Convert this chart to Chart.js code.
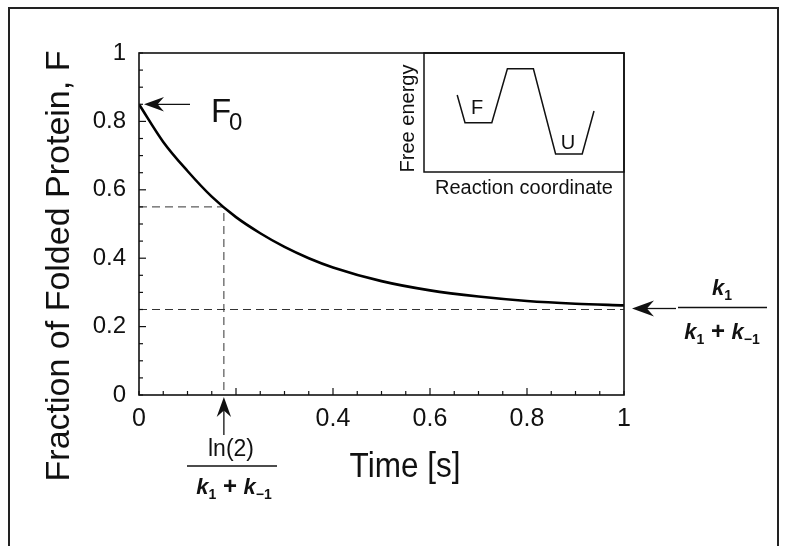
<!DOCTYPE html>
<html>
<head>
<meta charset="utf-8">
<script src="https://cdn.jsdelivr.net/npm/chart.js@4.4.1/dist/chart.umd.min.js"></script>
<style>
  html, body { margin: 0; background: #fff; }
  #wrap { position: relative; width: 788px; height: 546px; }
  #main { position: absolute; left: 0; top: 0; }
  #insetBox { position: absolute; left: 396px; top: 48px; width: 232px; height: 150px; }
</style>
</head>
<body>
<div id="wrap">
  <canvas id="main" width="788" height="546"></canvas>
  <div id="insetBox"><canvas id="inset"></canvas></div>
</div>
<script>
// values
const timeVals   = [0, 0.05, 0.1, 0.15, 0.2, 0.25, 0.3, 0.35, 0.4, 0.5, 0.6, 0.7, 0.8, 0.9, 1.0];
const foldedVals = [0.85, 0.74, 0.655, 0.58, 0.52, 0.473, 0.433, 0.40, 0.373, 0.333, 0.306, 0.288, 0.275, 0.267, 0.262];
const halfTime = 0.175;   // ln(2)/(k1+k-1)
const halfValue = 0.55;
const eqValue = 0.25;     // k1/(k1+k-1)
const startValue = 0.85;  // F0
const xTickLabels = [0, 0.4, 0.6, 0.8, 1];
const yTickLabels = [0, 0.2, 0.4, 0.6, 0.8, 1];

// inset: free energy vs reaction coordinate
const coordVals  = [0.166, 0.205, 0.339, 0.417, 0.547, 0.658, 0.791, 0.85];
const energyVals = [0.647, 0.414, 0.414, 0.868, 0.868, 0.151, 0.151, 0.513];

const FONT = '"Liberation Sans", Arial, Helvetica, sans-serif';
const pts = (xs, ys) => xs.map((x, i) => ({ x, y: ys[i] }));
const near = (v, list) => list.some(t => Math.abs(t - v) < 1e-6);

function arrowHead(ctx, tipX, tipY, angle, len, tail) {
  ctx.save();
  ctx.translate(tipX, tipY);
  ctx.rotate(angle);
  ctx.lineWidth = 1.3;
  ctx.beginPath(); ctx.moveTo(-tail, 0); ctx.lineTo(-len * 0.6, 0); ctx.stroke();
  ctx.beginPath();
  ctx.moveTo(0, 0);
  ctx.lineTo(-len, -len * 0.36);
  ctx.lineTo(-len * 0.68, 0);
  ctx.lineTo(-len, len * 0.36);
  ctx.closePath();
  ctx.fill();
  ctx.restore();
}

// draws k1 + k-1 centred on cx at baseline y
function kSum(ctx, cx, y) {
  const big = 'italic bold 22px ' + FONT, small = 'bold 14px ' + FONT, op = 'bold 24px ' + FONT;
  const parts = [['k', big, 0], ['1', small, 5], [' + ', op, 0], ['k', big, 0], ['\u22121', small, 5]];
  let w = 0;
  parts.forEach(p => { ctx.font = p[1]; w += ctx.measureText(p[0]).width; });
  let x = cx - w / 2;
  ctx.textAlign = 'left';
  parts.forEach(p => { ctx.font = p[1]; ctx.fillText(p[0], x, y + p[2]); x += ctx.measureText(p[0]).width; });
}
function k1(ctx, cx, y) {
  const big = 'italic bold 22px ' + FONT, small = 'bold 14px ' + FONT;
  ctx.font = big; const a = ctx.measureText('k').width;
  ctx.font = small; const b = ctx.measureText('1').width;
  let x = cx - (a + b) / 2;
  ctx.textAlign = 'left';
  ctx.font = big; ctx.fillText('k', x, y);
  ctx.font = small; ctx.fillText('1', x + a, y + 5);
}

const decor = {
  id: 'decor',
  beforeDraw(chart) {
    const ctx = chart.ctx;
    ctx.save();
    ctx.fillStyle = '#fff';
    ctx.fillRect(0, 0, chart.width, chart.height);
    // page frame
    ctx.strokeStyle = '#222';
    ctx.lineWidth = 2;
    ctx.beginPath();
    ctx.moveTo(9, 546); ctx.lineTo(9, 8); ctx.lineTo(778, 8); ctx.lineTo(778, 546);
    ctx.stroke();
    ctx.restore();
  },
  afterDraw(chart) {
    const ctx = chart.ctx, xs = chart.scales.x, ys = chart.scales.y, a = chart.chartArea;
    ctx.save();
    ctx.strokeStyle = '#111';
    ctx.fillStyle = '#111';
    // frame of the plot
    ctx.lineWidth = 1.6;
    ctx.strokeRect(a.left, a.top, a.right - a.left, a.bottom - a.top);
    // inward ticks
    ctx.lineWidth = 1.2;
    xs.ticks.forEach(t => {
      const px = xs.getPixelForValue(t.value);
      const L = near(t.value, [0.2, 0.4, 0.6, 0.8]) ? 7 : 4;
      ctx.beginPath(); ctx.moveTo(px, a.bottom); ctx.lineTo(px, a.bottom - L); ctx.stroke();
    });
    ys.ticks.forEach(t => {
      const py = ys.getPixelForValue(t.value);
      const L = near(t.value, [0.2, 0.4, 0.6, 0.8]) ? 7 : 4;
      ctx.beginPath(); ctx.moveTo(a.left, py); ctx.lineTo(a.left + L, py); ctx.stroke();
    });

    // axis titles
    ctx.textAlign = 'center';
    ctx.textBaseline = 'middle';
    ctx.font = '34px ' + FONT;
    ctx.save();
    ctx.translate(60, 266);
    ctx.rotate(-Math.PI / 2);
    ctx.fillText('Fraction of Folded Protein, F', 0, 0);
    ctx.restore();
    ctx.save();
    ctx.translate(405, 467);
    ctx.scale(0.9, 1);
    ctx.font = '35px ' + FONT;
    ctx.fillText('Time [s]', 0, 0);
    ctx.restore();

    // F0 arrow and label
    const y0 = ys.getPixelForValue(startValue);
    arrowHead(ctx, a.left + 5, y0, Math.PI, 20, 46);
    ctx.textAlign = 'left';
    ctx.textBaseline = 'alphabetic';
    ctx.font = '33px ' + FONT;
    ctx.fillText('F', 211, 122);
    ctx.font = '24px ' + FONT;
    ctx.fillText('0', 229, 130);

    // equilibrium arrow and fraction
    const yEq = ys.getPixelForValue(eqValue);
    arrowHead(ctx, a.right + 8, yEq - 1, Math.PI, 22, 44);
    ctx.lineWidth = 1.3;
    ctx.beginPath(); ctx.moveTo(678, yEq - 2); ctx.lineTo(767, yEq - 2); ctx.stroke();
    k1(ctx, 722, 295);
    kSum(ctx, 722, 339);

    // half-life arrow and fraction
    const xh = xs.getPixelForValue(halfTime);
    arrowHead(ctx, xh, a.bottom + 2, -Math.PI / 2, 20, 38);
    ctx.textAlign = 'center';
    ctx.font = '23px ' + FONT;
    ctx.fillText('ln(2)', 231, 456);
    ctx.lineWidth = 1.3;
    ctx.beginPath(); ctx.moveTo(187, 466); ctx.lineTo(277, 466); ctx.stroke();
    kSum(ctx, 234, 494);
    ctx.restore();
  }
};

new Chart(document.getElementById('main'), {
  type: 'line',
  data: {
    datasets: [
      {
        data: pts(timeVals, foldedVals),
        borderColor: '#000', borderWidth: 2.6, pointRadius: 0,
        cubicInterpolationMode: 'monotone'
      },
      {
        data: pts([0, halfTime, halfTime], [halfValue, halfValue, 0]),
        borderColor: '#333', borderWidth: 1, borderDash: [8, 5], pointRadius: 0
      },
      {
        data: pts([0, 1], [eqValue, eqValue]),
        borderColor: '#333', borderWidth: 1.2, borderDash: [8, 5], pointRadius: 0
      }
    ]
  },
  options: {
    responsive: false,
    animation: false,
    layout: { padding: { left: 0, right: 164, top: 53, bottom: 0 } },
    plugins: { legend: { display: false }, tooltip: { enabled: false } },
    scales: {
      x: {
        type: 'linear', min: 0, max: 1,
        afterFit: s => { s.height = 151; },
        grid: { display: false },
        border: { display: false },
        ticks: {
          stepSize: 0.05, autoSkip: false, maxRotation: 0, padding: 1,
          color: '#111', font: { family: FONT, size: 25 },
          callback: v => near(v, xTickLabels) ? String(Math.round(v * 10) / 10) : ''
        }
      },
      y: {
        min: 0, max: 1,
        afterFit: s => { s.width = 139; },
        grid: { display: false },
        border: { display: false },
        ticks: {
          stepSize: 0.05, autoSkip: false, padding: 5,
          color: '#111', font: { family: FONT, size: 24 },
          callback: v => near(v, yTickLabels) ? String(Math.round(v * 10) / 10) : ''
        }
      }
    }
  },
  plugins: [decor]
});

// inset energy landscape
const insetDecor = {
  id: 'insetDecor',
  afterDraw(chart) {
    const ctx = chart.ctx, a = chart.chartArea, xs = chart.scales.x, ys = chart.scales.y;
    ctx.save();
    ctx.strokeStyle = '#111';
    ctx.lineWidth = 1.5;
    ctx.strokeRect(a.left, a.top, a.right - a.left, a.bottom - a.top);
    ctx.fillStyle = '#111';
    ctx.textAlign = 'center';
    ctx.textBaseline = 'middle';
    ctx.font = '20px ' + FONT;
    ctx.fillText('F', xs.getPixelForValue(0.265), ys.getPixelForValue(0.53));
    ctx.fillText('U', xs.getPixelForValue(0.72), ys.getPixelForValue(0.24));
    ctx.fillText('Reaction coordinate', (a.left + a.right) / 2, 140);
    ctx.save();
    ctx.translate(12, (a.top + a.bottom) / 2 + 6);
    ctx.rotate(-Math.PI / 2);
    ctx.fillText('Free energy', 0, 0);
    ctx.restore();
    ctx.restore();
  }
};

new Chart(document.getElementById('inset'), {
  type: 'line',
  data: {
    datasets: [{
      data: pts(coordVals, energyVals),
      borderColor: '#111', borderWidth: 1.5, pointRadius: 0, tension: 0
    }]
  },
  options: {
    responsive: true,
    maintainAspectRatio: false,
    animation: false,
    layout: { padding: { left: 0, right: 4, top: 5, bottom: 0 } },
    plugins: { legend: { display: false }, tooltip: { enabled: false } },
    scales: {
      x: {
        type: 'linear', min: 0, max: 1,
        afterFit: s => { s.height = 26; },
        grid: { display: false }, border: { display: false },
        ticks: { display: false }
      },
      y: {
        min: 0, max: 1,
        afterFit: s => { s.width = 28; },
        grid: { display: false }, border: { display: false },
        ticks: { display: false }
      }
    }
  },
  plugins: [insetDecor]
});
</script>
</body>
</html>
